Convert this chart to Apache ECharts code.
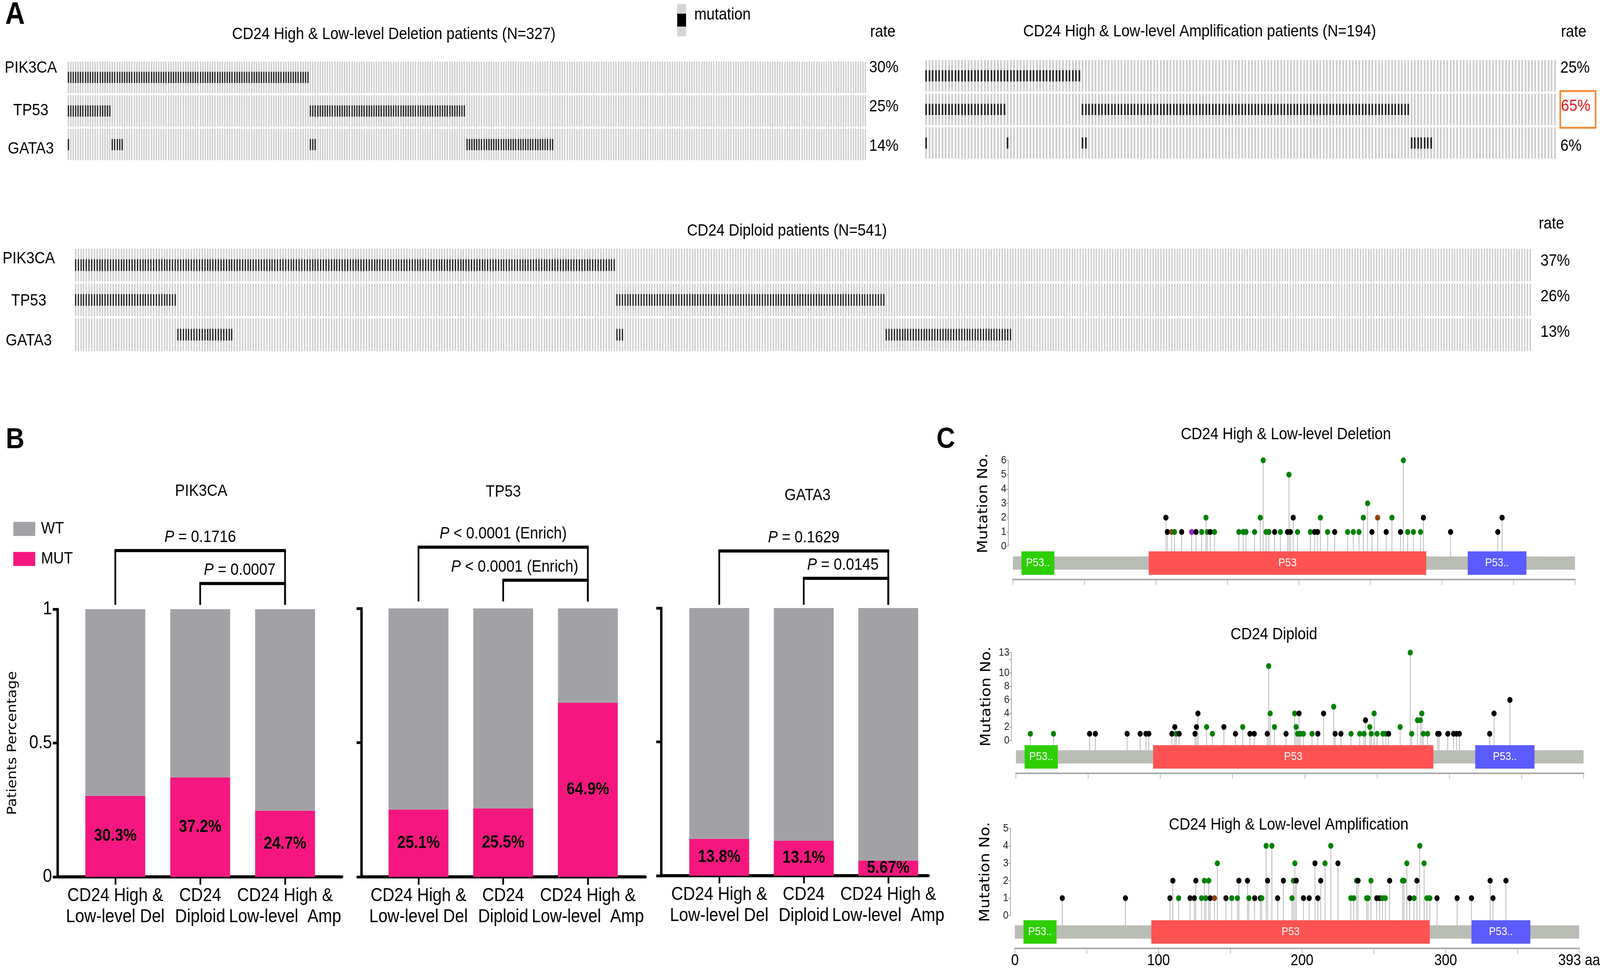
<!DOCTYPE html>
<html>
<head>
<meta charset="utf-8">
<script src="https://cdn.jsdelivr.net/npm/echarts@6/dist/echarts.min.js"></script>
<style>html,body{margin:0;padding:0;background:#fff;overflow:hidden}#wrap{transform-origin:0 0}#c{width:4676px;height:2490px}</style>
</head>
<body>
<div id="wrap"><div id="c"></div></div>
<script>
// ================= DATA =================
const genes = ['PIK3CA', 'TP53', 'GATA3'];
// oncoprint mutation patterns in display order: [PIK3CA, TP53, GATA3]
const patterns = [[1,1,1],[1,1,0],[1,0,1],[1,0,0],[0,1,1],[0,1,0],[0,0,1],[0,0,0]];
const delCounts = [1, 17, 5, 76, 3, 61, 36, 128];   // N = 327
const ampCounts = [1, 24, 1, 22, 2, 99, 7, 38];     // N = 194
const dipCounts = [0, 38, 21, 142, 3, 97, 47, 193]; // N = 541
const delRates = ['30%', '25%', '14%'];
const ampRates = ['25%', '65%', '6%'];
const dipRates = ['37%', '26%', '13%'];

// panel B
const groupLabels = ['CD24 High &\nLow-level Del', 'CD24\nDiploid', 'CD24 High &\nLow-level  Amp'];
const pik3caMut = [30.3, 37.2, 24.7];
const tp53Mut = [25.1, 25.5, 64.9];
const gata3Mut = [13.8, 13.1, 5.67];
const pik3caP = ['= 0.1716', '= 0.0007'];
const tp53P = ['< 0.0001 (Enrich)', '< 0.0001 (Enrich)'];
const gata3P = ['= 0.1629', '= 0.0145'];
const comparisons = [[0, 2], [1, 2]];
const yTicksB = [0, 0.5, 1];

// panel C (TP53 lollipops): [aa position, mutation count, type]
// M = missense, T = truncating, I = inframe, O = other
const proteinLength = 393;
const domains = [['P53..', 6, 29], ['P53', 95, 289], ['P53..', 318, 359]];
const aaTicks = [0, 50, 100, 150, 200, 250, 300, 350, 393];
const aaLabels = [0, 100, 200, 300, 393];
const delLolli = [[107,2,'T'],[108,1,'T'],[111,1,'I'],[113,1,'M'],[118,1,'T'],[125,1,'O'],[128,1,'T'],[132,1,'M'],[135,2,'M'],[136,1,'M'],[138,1,'T'],[141,1,'M'],[158,1,'M'],[161,1,'M'],[163,1,'M'],[169,1,'M'],[173,2,'M'],[175,6,'M'],[177,1,'M'],[179,1,'M'],[183,1,'T'],[187,1,'M'],[192,1,'T'],[193,5,'M'],[194,1,'T'],[196,2,'T'],[199,1,'M'],[208,1,'M'],[211,1,'T'],[213,1,'T'],[215,2,'M'],[220,1,'M'],[225,1,'T'],[234,1,'M'],[238,1,'M'],[242,1,'M'],[245,2,'M'],[248,3,'M'],[251,1,'T'],[255,2,'I'],[261,1,'T'],[265,2,'M'],[271,1,'T'],[273,6,'M'],[276,1,'M'],[280,1,'M'],[285,1,'M'],[287,2,'T'],[306,1,'T'],[339,1,'T'],[342,2,'T']];
const dipLolli = [[10,1,'M'],[26,1,'M'],[51,1,'T'],[55,1,'T'],[77,1,'T'],[86,1,'T'],[90,1,'T'],[92,1,'T'],[108,1,'T'],[110,2,'T'],[111,1,'M'],[113,1,'T'],[124,1,'T'],[125,2,'T'],[126,4,'T'],[132,2,'M'],[136,1,'M'],[144,2,'T'],[152,1,'T'],[157,2,'M'],[162,1,'T'],[165,1,'T'],[174,1,'T'],[175,11,'M'],[176,4,'M'],[179,2,'M'],[187,1,'T'],[193,4,'M'],[194,2,'M'],[195,1,'M'],[196,4,'T'],[197,1,'M'],[199,1,'M'],[205,1,'M'],[209,1,'T'],[213,4,'T'],[220,5,'M'],[221,1,'T'],[225,1,'T'],[232,1,'M'],[238,1,'M'],[241,1,'M'],[242,3,'T'],[245,2,'M'],[246,1,'M'],[248,4,'M'],[250,1,'M'],[254,1,'M'],[256,1,'M'],[258,1,'T'],[266,2,'M'],[273,13,'M'],[274,1,'M'],[278,3,'M'],[280,3,'M'],[281,4,'M'],[282,1,'M'],[285,1,'M'],[292,1,'T'],[293,1,'T'],[299,1,'T'],[303,1,'T'],[305,1,'T'],[307,1,'T'],[328,1,'T'],[331,4,'T'],[342,6,'T']];
const ampLolli = [[33,1,'T'],[77,1,'T'],[108,1,'T'],[110,2,'T'],[114,1,'M'],[122,1,'T'],[125,1,'T'],[126,2,'T'],[130,1,'M'],[132,2,'M'],[133,1,'M'],[135,2,'M'],[136,1,'T'],[139,1,'I'],[141,3,'M'],[147,1,'T'],[151,1,'M'],[155,1,'M'],[156,2,'T'],[162,2,'T'],[163,1,'M'],[167,1,'T'],[171,1,'T'],[172,1,'M'],[175,4,'M'],[176,2,'T'],[179,4,'M'],[183,1,'T'],[187,2,'T'],[193,1,'M'],[194,2,'M'],[195,3,'M'],[196,2,'T'],[201,1,'T'],[205,1,'T'],[209,3,'T'],[211,1,'T'],[213,2,'T'],[216,3,'M'],[220,4,'M'],[225,3,'T'],[234,1,'M'],[236,1,'M'],[238,2,'M'],[239,2,'T'],[245,1,'M'],[246,1,'M'],[248,2,'M'],[252,1,'T'],[254,1,'T'],[256,1,'M'],[258,1,'M'],[261,2,'T'],[270,2,'M'],[271,2,'M'],[273,3,'M'],[275,1,'T'],[278,1,'M'],[280,2,'T'],[282,4,'M'],[285,3,'M'],[287,1,'M'],[289,1,'M'],[294,1,'T'],[308,1,'T'],[318,1,'T'],[331,2,'T'],[333,1,'T'],[342,2,'T']];
const delYTicks = [0,1,2,3,4,5,6];
const dipYTicks = [0,2,4,6,8,10,12,13];
const dipYLabels = [0,2,4,6,8,10,13];
const ampYTicks = [0,1,2,3,4,5];

// ================= STYLE / LAYOUT =================
const W = 4676, H = 2490;
(function fit() {
  const sx = window.innerWidth / W, sy = window.innerHeight / H;
  if (sx > 0.5 && sy > 0.5 && (Math.abs(sx - 1) > 0.002 || Math.abs(sy - 1) > 0.002)) {
    document.getElementById('wrap').style.transform = 'scale(' + sx + ',' + sy + ')';
  }
})();

const FONT = 'Liberation Sans';
const WT_COLOR = '#a2a2a6';
const MUT_COLOR = '#f5177f';
const TYPE_CODES = ['M', 'T', 'I', 'O'];
const TYPE_COLORS = ['#008000', '#000000', '#8b4513', '#9a1fd0'];
const DOMAIN_COLORS = ['#2dcf00', '#ff5353', '#5b5bff'];

const grids = [], xAxes = [], yAxes = [], series = [];
function addGrid(g) {
  grids.push(Object.assign({ containLabel: false, outerBoundsMode: 'none' }, g));
  return grids.length - 1;
}
function richShift(shifts, special) {
  const rich = {};
  shifts.forEach((s, i) => {
    rich['r' + i] = {
      fontSize: 43, fontFamily: FONT, color: '#000',
      padding: s < 0 ? [0, 0, -2 * s, 0] : [2 * s, 0, 0, 0]
    };
  });
  if (special) Object.assign(rich, special);
  return rich;
}

// ---------- oncoprints ----------
function expand(counts) {
  const out = []; let i = 0;
  counts.forEach((c, k) => {
    for (let j = 0; j < c; j++) { patterns[k].forEach((m, g) => out.push([i, g, m])); i++; }
  });
  return { data: out, n: i };
}
function oncoRender(params, api) {
  const c = api.coord([api.value(0), api.value(1)]);
  const sz = api.size([1, 1]);
  const w = Math.max(1, sz[0] * 0.55), h = sz[1] - 6;
  const x = Math.round(c[0] - w / 2), ww = Math.max(1, Math.round(w));
  const kids = [{ type: 'rect', shape: { x: x, y: c[1] - h / 2, width: ww, height: h }, style: { fill: '#cdcdcd' } }];
  if (api.value(2)) kids.push({ type: 'rect', shape: { x: x, y: c[1] - h * 0.18, width: ww, height: h * 0.36 }, style: { fill: '#2a2a2a' } });
  return { type: 'group', children: kids };
}
function addOnco(counts, rates, box, geneOpt, rateOpt) {
  const ex = expand(counts);
  const gi = addGrid({ left: box.left, top: box.top, width: box.width, height: box.height });
  const xi = xAxes.push({ gridIndex: gi, type: 'value', min: -0.5, max: ex.n - 0.5, show: false }) - 1;
  const yi = yAxes.push({
    gridIndex: gi, type: 'category', data: genes, inverse: true,
    axisLine: { show: false }, axisTick: { show: false }, splitLine: { show: false },
    axisLabel: geneOpt ? {
      show: true, align: 'center', margin: geneOpt.margin,
      formatter: (v, i) => '{r' + i + '|' + v + '}', rich: richShift(geneOpt.shifts)
    } : { show: false }
  }) - 1;
  yAxes.push({
    gridIndex: gi, type: 'category', data: rates, inverse: true, position: 'right',
    axisLine: { show: false }, axisTick: { show: false }, splitLine: { show: false },
    axisLabel: {
      show: true, align: 'left', margin: rateOpt.margin,
      formatter: (v, i) => '{' + ((rateOpt.highlight === i) ? 'hl' : 'r' + i) + '|' + v + '}',
      rich: richShift(rateOpt.shifts, rateOpt.highlight != null ? {
        hl: { fontSize: 43, fontFamily: FONT, color: '#e8141e', lineHeight: 43,
              borderColor: '#f08a3c', borderWidth: 5, padding: [18, 15, 33, 2] }
      } : null)
    }
  });
  series.push({ type: 'custom', xAxisIndex: xi, yAxisIndex: yi, renderItem: oncoRender, data: ex.data, clip: false, silent: true });
}
addOnco(delCounts, delRates, { left: 196, top: 155, width: 2337, height: 258 },
  { margin: 106, shifts: [-24, -1, 11] }, { margin: 7, shifts: [-25, -11, 4] });
addOnco(ampCounts, ampRates, { left: 2702, top: 151, width: 1847, height: 258 },
  null, { margin: 11, shifts: [-20, -7, 8], highlight: 1 });
addOnco(dipCounts, dipRates, { left: 217, top: 634, width: 4259, height: 267 },
  { margin: 133, shifts: [-16, 3, 16] }, { margin: 26, shifts: [-10, -8, -6] });

// ---------- panel B bars ----------
function bracketRender(texts, br) {
  return function (params, api) {
    const x1 = api.value(0), x2 = api.value(1), idx = api.value(2);
    const top = idx === 0 ? br.outer : br.inner;
    const a = api.coord([x1, top]), b = api.coord([x2, top]);
    const la = api.coord([x1, br.leg]), lb = api.coord([x2, br.leg]);
    const kids = [
      { type: 'line', shape: { x1: a[0] - 2.5, y1: a[1], x2: b[0] + 2.5, y2: b[1] }, style: { stroke: '#000', lineWidth: 8 } },
      { type: 'line', shape: { x1: la[0], y1: la[1], x2: a[0], y2: a[1] }, style: { stroke: '#000', lineWidth: 5 } },
      { type: 'line', shape: { x1: lb[0], y1: lb[1], x2: b[0], y2: b[1] }, style: { stroke: '#000', lineWidth: 5 } }
    ];
    const outer = idx === 0;
    kids.push({
      type: 'text',
      style: {
        text: '{i|P} ' + texts[idx],
        x: outer ? (a[0] + b[0]) / 2 : b[0] - 28, y: a[1] - 34,
        align: outer ? 'center' : 'right', verticalAlign: 'middle',
        fontSize: 43, fontFamily: FONT, fill: '#000',
        rich: { i: { fontStyle: 'italic', fontSize: 43, fontFamily: FONT, fill: '#000', color: '#000' } }
      }
    });
    return { type: 'group', children: kids };
  };
}
function addBarPanel(k, mut, pTexts, box, br, showY) {
  // outer grid: visible axes spanning the full panel
  const go = addGrid({ left: box.left, top: box.top, width: box.width, height: box.height });
  xAxes.push({
    gridIndex: go, type: 'value', min: box.min, max: box.max,
    axisLine: { show: true, onZero: false, lineStyle: { color: '#000', width: 8 } },
    axisTick: { show: true, customValues: [0, 1, 2], length: 20, lineStyle: { color: '#000', width: 5 } },
    axisLabel: { show: true, customValues: [0, 1, 2], formatter: v => groupLabels[v], fontSize: 48, lineHeight: 54, color: '#000', margin: 22, fontFamily: FONT },
    splitLine: { show: false }
  });
  const yOpt = {
    gridIndex: go, type: 'value', min: 0, max: 1,
    axisLine: { show: true, onZero: false, lineStyle: { color: '#000', width: 7 } },
    axisTick: { show: true, customValues: yTicksB, length: 14, lineStyle: { color: '#000', width: 7 } },
    axisLabel: { show: showY, customValues: yTicksB, formatter: v => String(v), fontSize: 48, color: '#000', margin: 16, fontFamily: FONT },
    splitLine: { show: false }
  };
  if (showY) Object.assign(yOpt, {
    name: 'Patients Percentage', nameLocation: 'middle', nameRotate: 90, nameGap: 112,
    nameTextStyle: { fontFamily: 'DejaVu Sans', fontSize: 37, color: '#000' }
  });
  yAxes.push(yOpt);
  // inner grid: the three category bands carrying the stacked bars
  const unit = box.width / (box.max - box.min);
  const gi = addGrid({ left: box.left + (-0.5 - box.min) * unit, top: box.top, width: 3 * unit, height: box.height });
  const xi = xAxes.push({ gridIndex: gi, type: 'category', data: groupLabels, show: false }) - 1;
  const yi = yAxes.push({ gridIndex: gi, type: 'value', min: 0, max: 1, show: false }) - 1;
  series.push({
    name: 'MUT', type: 'bar', xAxisIndex: xi, yAxisIndex: yi, stack: 's' + k, barWidth: 175,
    data: mut.map(v => v / 100), itemStyle: { color: MUT_COLOR }, silent: true,
    label: { show: true, position: 'inside', formatter: p => mut[p.dataIndex] + '%', fontSize: 44, fontWeight: 'bold', color: '#000', fontFamily: FONT, textBorderWidth: 0 }
  });
  series.push({
    name: 'WT', type: 'bar', xAxisIndex: xi, yAxisIndex: yi, stack: 's' + k, barWidth: 175,
    data: mut.map(v => 1 - v / 100), itemStyle: { color: WT_COLOR }, silent: true
  });
  series.push({
    type: 'custom', xAxisIndex: xi, yAxisIndex: yi, clip: false, silent: true, z: 5,
    renderItem: bracketRender(pTexts, br),
    data: comparisons.map((c, i) => [c[0], c[1], i])
  });
}
addBarPanel(0, pik3caMut, pik3caP, { left: 168, top: 1559, width: 831, height: 685, min: -0.681, max: 2.669 }, { outer: 1.219, inner: 1.096, leg: 1.016 }, true);
addBarPanel(1, tp53Mut, tp53P, { left: 1056, top: 1557, width: 830, height: 687, min: -0.675, max: 2.679 }, { outer: 1.228, inner: 1.105, leg: 1.026 }, false);
addBarPanel(2, gata3Mut, gata3P, { left: 1932, top: 1556, width: 781, height: 685, min: -0.688, max: 2.474 }, { outer: 1.213, inner: 1.111, leg: 1.012 }, false);

// ---------- panel C lollipops ----------
function inDomain(aa) { return domains.some(d => aa >= d[1] && aa <= d[2]); }
function stemRender(gap) {
  return function (params, api) {
    const aa = api.value(0), n = api.value(1);
    const p = api.coord([aa, n]), b = api.coord([aa, 0]);
    return { type: 'line', shape: { x1: p[0], y1: p[1], x2: p[0], y2: b[1] + gap + (inDomain(aa) ? 0 : 13) }, style: { stroke: '#b0b0b0', lineWidth: 2 } };
  };
}
function dotRender(params, api) {
  const p = api.coord([api.value(0), api.value(1)]);
  return { type: 'circle', shape: { cx: p[0], cy: p[1], r: 7.5 }, style: { fill: TYPE_COLORS[api.value(2)] } };
}
function trackRender(params, api) {
  const cs = params.coordSys;
  const s = api.value(0), e = api.value(1), k = api.value(2);
  const x1 = api.coord([s, 0])[0], x2 = api.coord([e, 0])[0];
  if (k < 0) return { type: 'rect', shape: { x: x1, y: cs.y + 13, width: x2 - x1, height: cs.height - 26 }, style: { fill: '#babdb6' } };
  return {
    type: 'rect', shape: { x: x1, y: cs.y, width: x2 - x1, height: cs.height }, style: { fill: DOMAIN_COLORS[k] },
    textContent: { type: 'text', style: { text: domains[k][0], fill: '#fff', fontSize: 30, fontFamily: FONT } },
    textConfig: { position: 'inside' }
  };
}
function addLolli(list, box, trackTop, yMax, yTicks, yLabels, showAa) {
  const gi = addGrid({ left: box.left, top: box.top, width: box.width, height: box.height });
  const xi = xAxes.push({ gridIndex: gi, type: 'value', min: 0, max: proteinLength, show: false }) - 1;
  const yi = yAxes.push({
    gridIndex: gi, type: 'value', min: 0, max: yMax, offset: 13,
    name: 'Mutation No.', nameLocation: 'middle', nameRotate: 90, nameGap: 52,
    nameTextStyle: { fontFamily: 'DejaVu Sans', fontSize: 40, color: '#000' },
    axisLine: { show: true, onZero: false, lineStyle: { color: '#9a9a9a', width: 2 } },
    axisTick: { show: true, customValues: yTicks, length: 6, lineStyle: { color: '#9a9a9a', width: 2 } },
    axisLabel: { show: true, customValues: yLabels, fontSize: 28, color: '#222', margin: 6, fontFamily: FONT },
    splitLine: { show: false }
  }) - 1;
  const data = list.map(d => [d[0], d[1], TYPE_CODES.indexOf(d[2])]);
  const gap = trackTop - (box.top + box.height);
  series.push({ type: 'custom', xAxisIndex: xi, yAxisIndex: yi, clip: false, silent: true, z: 2, renderItem: stemRender(gap), data: data });
  series.push({ type: 'custom', xAxisIndex: xi, yAxisIndex: yi, clip: false, silent: true, z: 3, renderItem: dotRender, data: data });
  const tg = addGrid({ left: box.left, top: trackTop, width: box.width, height: 60 });
  const txi = xAxes.push({
    gridIndex: tg, type: 'value', min: 0, max: proteinLength, position: 'bottom', offset: 12,
    axisLine: { show: true, onZero: false, lineStyle: { color: '#a8a8a8', width: 4 } },
    axisTick: { show: true, customValues: aaTicks, length: 14, lineStyle: { color: '#b8b8b8', width: 2 } },
    axisLabel: { show: showAa, customValues: aaLabels, formatter: v => v === proteinLength ? v + ' aa' : String(v), fontSize: 40, color: '#000', margin: 12, fontFamily: FONT },
    splitLine: { show: false }
  }) - 1;
  const tyi = yAxes.push({ gridIndex: tg, type: 'value', min: 0, max: 1, show: false }) - 1;
  series.push({
    type: 'custom', xAxisIndex: txi, yAxisIndex: tyi, clip: false, silent: true, renderItem: trackRender,
    data: [[0, proteinLength, -1]].concat(domains.map((d, i) => [d[1], d[2], i]))
  });
}
addLolli(delLolli, { left: 2960, top: 1178, width: 1643, height: 220 }, 1411, 6, delYTicks, delYTicks, false);
addLolli(dipLolli, { left: 2969, top: 1670, width: 1659, height: 225 }, 1907, 13, dipYTicks, dipYLabels, false);
addLolli(ampLolli, { left: 2966, top: 2120, width: 1649, height: 223 }, 2355, 5, ampYTicks, ampYTicks, true);

// ---------- free texts ----------
const texts = [
  ['A', 15, 39, 'left', 80, 'bold'],
  ['CD24 High & Low-level Deletion patients (N=327)', 1151, 88, 'center', 43],
  ['mutation', 2029, 38, 'left', 43],
  ['rate', 2543, 82, 'left', 43],
  ['CD24 High & Low-level Amplification patients (N=194)', 3506, 81, 'center', 43],
  ['rate', 4562, 82, 'left', 43],
  ['CD24 Diploid patients (N=541)', 2300, 591, 'center', 43],
  ['rate', 4497, 573, 'left', 43],
  ['B', 17, 1126, 'left', 75, 'bold'],
  ['PIK3CA', 588, 1257, 'center', 43],
  ['TP53', 1471, 1259, 'center', 43],
  ['GATA3', 2360, 1268, 'center', 43],
  ['C', 2737, 1125, 'left', 75, 'bold'],
  ['CD24 High & Low-level Deletion', 3758, 1112, 'center', 43],
  ['CD24 Diploid', 3723, 1624, 'center', 43],
  ['CD24 High & Low-level Amplification', 3766, 2111, 'center', 43]
];
const graphics = texts.map(t => ({
  type: 'text', x: t[1], y: t[2], silent: true,
  style: { text: t[0], fontSize: t[4], fontWeight: t[5] || 'normal', fontFamily: FONT, fill: '#000',
           align: t[3], verticalAlign: 'middle', textAlign: t[3], textVerticalAlign: 'middle' }
}));
graphics.push({ type: 'rect', shape: { x: 1979, y: 10, width: 26, height: 83 }, style: { fill: '#d5d5d5' }, silent: true });
graphics.push({ type: 'rect', shape: { x: 1979, y: 35, width: 26, height: 33 }, style: { fill: '#000' }, silent: true });

const chart = echarts.init(document.getElementById('c'), null, { renderer: 'canvas', width: W, height: H });
chart.setOption({
  animation: false,
  backgroundColor: '#fff',
  textStyle: { fontFamily: FONT },
  grid: grids,
  xAxis: xAxes,
  yAxis: yAxes,
  legend: {
    data: ['WT', 'MUT'], orient: 'vertical', left: 34, top: 1327, itemWidth: 64, itemHeight: 36, itemGap: 34,
    icon: 'rect', selectedMode: false, itemStyle: { borderWidth: 0 },
    textStyle: { fontSize: 43, color: '#000', fontFamily: FONT, padding: [0, 0, 0, 12] }
  },
  graphic: { elements: graphics },
  series: series
});
</script>
</body>
</html>
